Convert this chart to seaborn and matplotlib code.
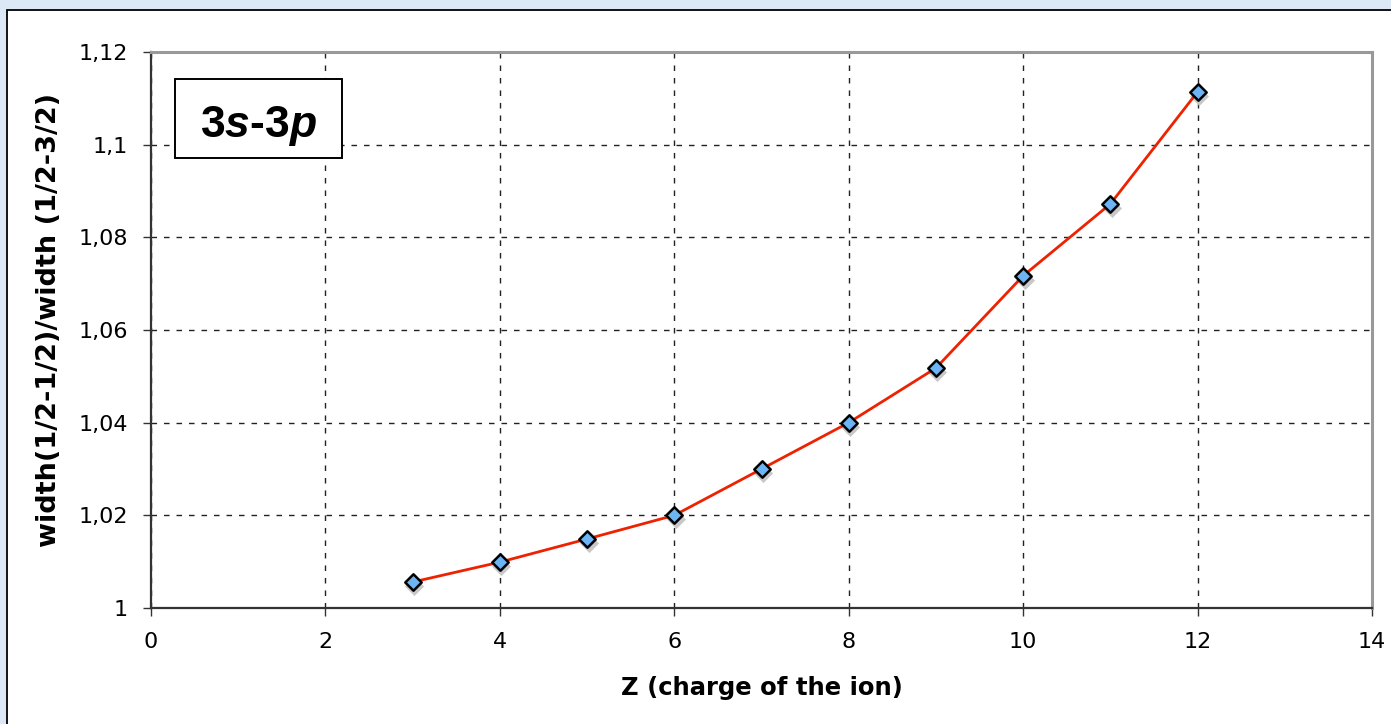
import numpy as np
import pandas as pd
import seaborn as sns
import matplotlib
matplotlib.use("Agg")
import matplotlib.pyplot as plt
import matplotlib.transforms as mtransforms
from matplotlib.patches import Rectangle
from matplotlib.ticker import FuncFormatter, MultipleLocator

# data
z_values = [3, 4, 5, 6, 7, 8, 9, 10, 11, 12]
width_ratio = [1.0056, 1.0099, 1.0149, 1.0200, 1.0300, 1.0400, 1.0518, 1.0717, 1.0872, 1.1114]
x_label = "Z (charge of the ion)"
y_label = "width(1/2-1/2)/width (1/2-3/2)"

df = pd.DataFrame({"Z": z_values, "ratio": width_ratio})

sns.set_theme(style="white")
plt.rcParams['font.family'] = ['DejaVu Sans']
plt.rcParams['mathtext.fontset'] = 'custom'
plt.rcParams['mathtext.bfit'] = 'Liberation Sans:bold:italic'
plt.rcParams['mathtext.bf'] = 'Liberation Sans:bold'
plt.rcParams['mathtext.rm'] = 'Liberation Sans:bold'

W, H = 1391, 724
fig = plt.figure(figsize=(W / 100, H / 100), dpi=100)
fig.patch.set_facecolor("#dde8f6")

# white chart frame
frame = Rectangle((7 / W, -0.01), 1.05, 1.01 - 10 / H, transform=fig.transFigure,
                  facecolor="white", edgecolor="black", linewidth=1.3, zorder=-5)
fig.patches.append(frame)

ax = fig.add_axes([151 / W, 1 - 608 / H, (1372 - 151) / W, (608 - 52) / H])
ax.set_facecolor("white")

# shadow markers
shadow = mtransforms.offset_copy(ax.transData, fig=fig, x=1.5, y=-4, units="dots")
ax.scatter(df["Z"], df["ratio"], marker="D", s=95, color="#c8c8c8", linewidths=0,
           transform=shadow, zorder=3)
sns.lineplot(data=df, x="Z", y="ratio", ax=ax, color="#ee2200", linewidth=2, zorder=4)
ax.scatter(df["Z"], df["ratio"], marker="D", s=70, color="#6cb4f4", edgecolors="black",
           linewidths=1.8, zorder=5)

ax.set_xlim(0, 14)
ax.set_ylim(1.0, 1.12)
ax.xaxis.set_major_locator(MultipleLocator(2))
ax.yaxis.set_major_locator(MultipleLocator(0.02))

def comma_fmt(v, pos):
    s = f"{v:.2f}".rstrip("0").rstrip(".")
    return s.replace(".", ",")

ax.yaxis.set_major_formatter(FuncFormatter(comma_fmt))
ax.xaxis.set_major_formatter(FuncFormatter(lambda v, p: f"{int(round(v))}"))

ax.grid(True, color="#222222", linestyle=(0, (4, 5)), linewidth=1.0)
ax.set_axisbelow(True)

for side in ["top", "right"]:
    ax.spines[side].set_color("#999999")
    ax.spines[side].set_linewidth(2.2)
for side in ["left", "bottom"]:
    ax.spines[side].set_color("#333333")
    ax.spines[side].set_linewidth(1.6)

ax.tick_params(axis="both", which="major", direction="out", length=5.5, width=1,
               color="#333333", labelsize=16, labelcolor="black",
               bottom=True, left=True)
ax.tick_params(axis="y", pad=11)
ax.tick_params(axis="x", pad=12)

ax.set_xlabel(x_label, fontsize=17.5, fontweight="bold", labelpad=17, color="black")
ax.set_ylabel(y_label, fontsize=19.5, fontweight="bold", color="black")
ax.yaxis.set_label_coords(-89 / 1221, (608 - 320) / 556)

# title box
ax.add_patch(Rectangle((24 / 1221, (608 - 158) / 556), 167 / 1221, 79 / 556,
                       transform=ax.transAxes, facecolor="white", edgecolor="black",
                       linewidth=1.4, zorder=6))
ax.text((258 - 151) / 1221, (608 - 137) / 556,
        r"$\mathbf{3}\mathbfit{s}\text{-}\mathbf{3}\mathbfit{p}$", transform=ax.transAxes,
        fontsize=32, ha="center", va="baseline", color="black", zorder=7)

fig.savefig("out.png", dpi=100, facecolor=fig.get_facecolor())
